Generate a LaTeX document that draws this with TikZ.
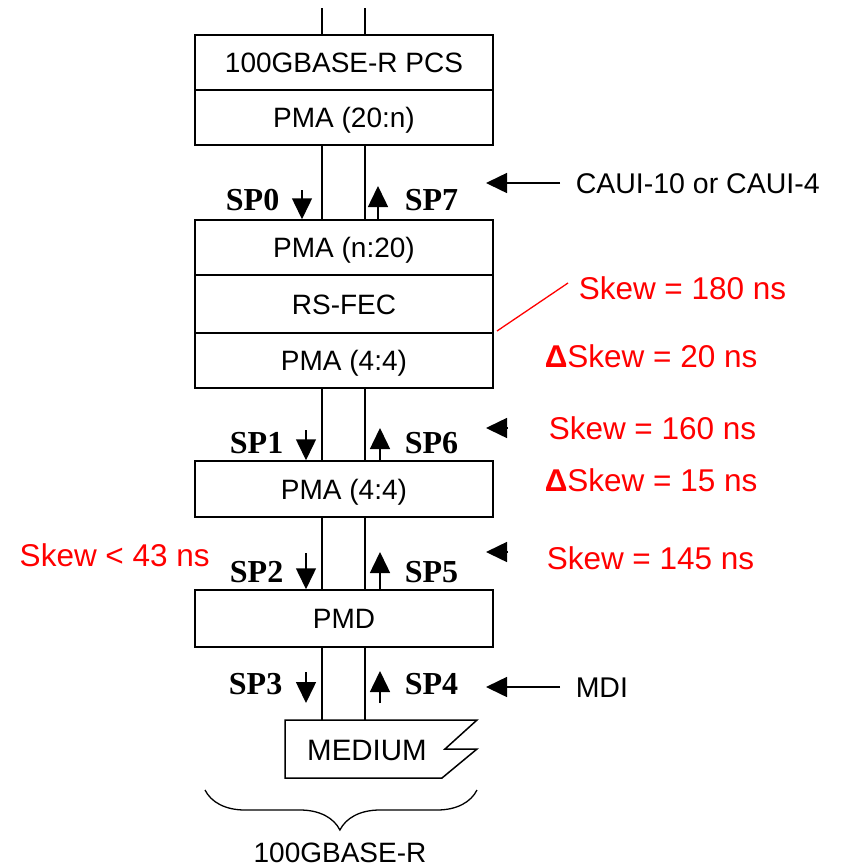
\documentclass[tikz,border=0pt]{standalone}
\usepackage{fontspec}
\setmainfont{Liberation Sans}
\newfontfamily\spfont{Liberation Serif}
\usetikzlibrary{arrows.meta,decorations.pathreplacing,calc}
\begin{document}
\begin{tikzpicture}[x=1pt,y=-1pt,
  line width=1.5pt,
  box/.style={draw,line width=1.5pt,minimum width=298pt,inner sep=0pt,
    font=\fontsize{28}{30}\selectfont,text height=20pt,text depth=0pt},
  sp/.style={inner sep=0pt,font=\spfont\bfseries\fontsize{32}{34}\selectfont,text height=21pt,text depth=0pt},
  lbl/.style={inner sep=0pt,font=\fontsize{28.5}{30}\selectfont,text height=20.4pt,text depth=0pt,anchor=west},
  redtxt/.style={inner sep=0pt,text=red,font=\fontsize{31.5}{34}\selectfont,text height=22.6pt,text depth=0pt,anchor=west},
  arr/.style={line width=1.5pt,-{Triangle[length=21pt,width=20pt]}},
  rarr/.style={line width=1.5pt,-{Triangle[length=21pt,width=20pt]}}
]
\useasboundingbox (0,0) rectangle (841,868);

% boxes
\node[box,minimum height=55pt] (pcs) at (344,62.5) {100GBASE-R PCS};
\node[box,minimum height=55pt] (pma20n) at (344,117.5) {PMA (20:n)};
\node[box,minimum height=55pt] (praman) at (344,247.5) {PMA (n:20)};
\node[box,minimum height=58pt] (rsfec) at (344,304) {RS-FEC};
\node[box,minimum height=55pt] (pmaA) at (344,360.5) {PMA (4:4)};
\node[box,minimum height=56pt] (pmaB) at (344,489) {PMA (4:4)};
\node[box,minimum height=57pt] (pmd) at (344,618.5) {PMD};

% top lines
\coordinate (topL) at (322,8);
\coordinate (topR) at (365,8);
\draw (topL) -- (topL |- pcs.north);
\draw (topR) -- (topR |- pcs.north);

% inter-box lines
\foreach \a/\b in {pma20n/praman,pmaA/pmaB,pmaB/pmd}{
  \draw ([xshift=-22pt]\a.south) -- ([xshift=-22pt]\b.north);
  \draw ([xshift=21pt]\a.south) -- ([xshift=21pt]\b.north);
}

% medium
\coordinate (mtl) at (285,720);
\coordinate (mtr) at (477,720);
\coordinate (mz1) at (445,749);
\coordinate (mz2) at (477,749);
\coordinate (mbr) at (442,778);
\coordinate (mbl) at (285,778);
\draw[line join=miter] (mtl) -- (mtr) -- (mz1) -- (mz2) -- (mbr) -- (mbl) -- cycle;
\node[inner sep=0pt,font=\fontsize{29.5}{31}\selectfont,text height=21pt,text depth=0pt] (medium) at (367,750) {MEDIUM};
\draw ([xshift=-22pt]pmd.south) -- ([xshift=-22pt]pmd.south |- mtl);
\draw ([xshift=21pt]pmd.south) -- ([xshift=21pt]pmd.south |- mtl);

% brace
\coordinate (brL) at (205,790);
\coordinate (brR) at (477,790);
\draw[line width=1.3pt,decorate,decoration={brace,mirror,amplitude=40pt,aspect=0.496}] (brL) -- (brR);
\node[inner sep=0pt,font=\fontsize{28}{30}\selectfont,text height=20pt,text depth=0pt] (base) at (340,852) {100GBASE-R};

% SP labels
\node[sp,anchor=east] (sp0) at (280,200) {SP0};
\node[sp,anchor=west] (sp7) at (404,200) {SP7};
\node[sp,anchor=east] (sp1) at (284,443) {SP1};
\node[sp,anchor=west] (sp6) at (404,443) {SP6};
\node[sp,anchor=east] (sp2) at (284,572) {SP2};
\node[sp,anchor=west] (sp5) at (404,572) {SP5};
\node[sp,anchor=east] (sp3) at (283,684) {SP3};
\node[sp,anchor=west] (sp4) at (404,684) {SP4};

% SP arrows
\coordinate (a0) at (302,190);
\draw[arr] (a0) -- (a0 |- praman.north);
\coordinate (a7) at (378,186);
\draw[arr] (a7 |- praman.north) -- (a7);
\coordinate (a1) at (306,430);
\draw[arr] (a1) -- (a1 |- pmaB.north);
\coordinate (a6) at (380,428);
\draw[arr] (a6 |- pmaB.north) -- (a6);
\coordinate (a2) at (306,553);
\draw[arr] (a2) -- (a2 |- pmd.north);
\coordinate (a5) at (380,552);
\draw[arr] (a5 |- pmd.north) -- (a5);
\coordinate (a3) at (306,672);
\coordinate (a3e) at (306,703);
\draw[arr] (a3) -- (a3e);
\coordinate (a4) at (380,671);
\coordinate (a4s) at (380,703);
\draw[arr] (a4s) -- (a4);

% right labels and arrows
\node[lbl] (caui) at (575,183) {CAUI-10 or CAUI-4};
\coordinate (cauiT) at (486,183);
\draw[rarr] ([xshift=-15pt]caui.west) -- (cauiT);
\node[lbl] (mdi) at (575,687) {MDI};
\coordinate (mdiT) at (486,687);
\draw[rarr] ([xshift=-15pt]mdi.west) -- (mdiT);
\coordinate (s6a) at (508,428);
\coordinate (s6b) at (486,428);
\draw[rarr] (s6a) -- (s6b);
\coordinate (s5a) at (508,552);
\coordinate (s5b) at (486,552);
\draw[rarr] (s5a) -- (s5b);

% red annotations
\node[redtxt] (sk180) at (578,288) {Skew = 180 ns};
\node[redtxt] (dsk20) at (544,356) {\textbf{Δ}Skew = 20 ns};
\node[redtxt] (sk160) at (548,428) {Skew = 160 ns};
\node[redtxt] (dsk15) at (544,480) {\textbf{Δ}Skew = 15 ns};
\node[redtxt] (sk145) at (546,558) {Skew = 145 ns};
\node[redtxt] (sk43) at (19,555) {Skew < 43 ns};
\coordinate (rl) at (497,331);
\draw[red,line width=1.3pt] (rl) -- (568,283);
\end{tikzpicture}
\end{document}
